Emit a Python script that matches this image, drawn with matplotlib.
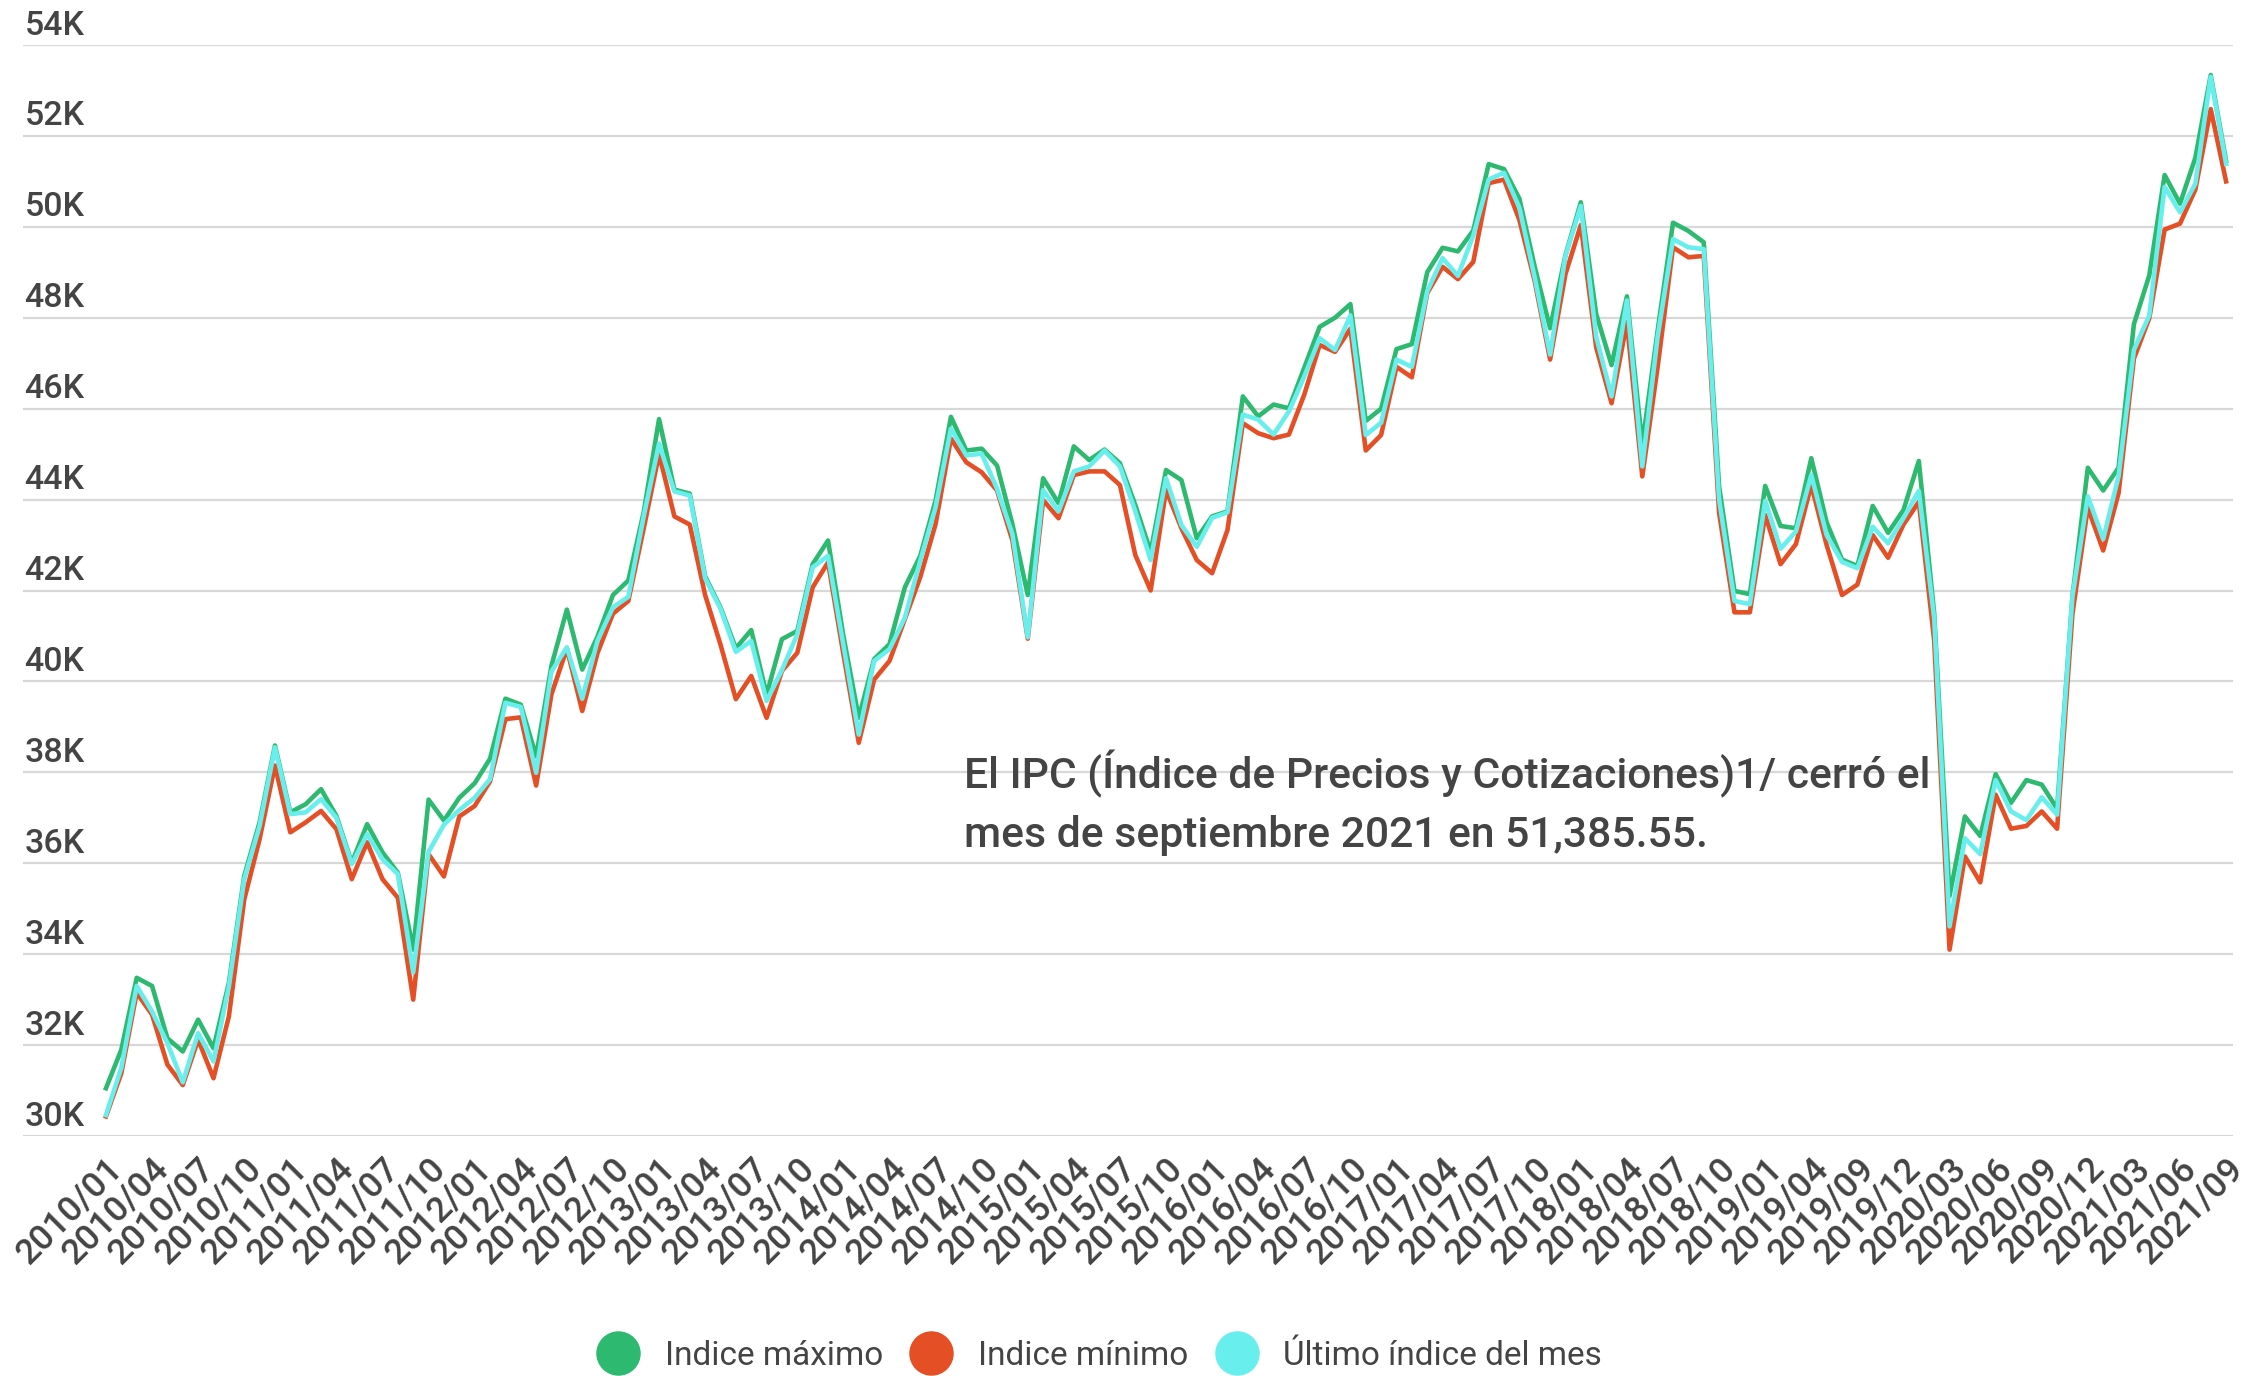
import matplotlib
matplotlib.use("Agg")
import matplotlib.pyplot as plt
from matplotlib.lines import Line2D

plt.rcParams['font.family'] = ['Roboto', 'DejaVu Sans']

# meses del periodo (faltan 2019/05 y 2019/07 en la serie)
meses = [f"{a}/{m:02d}" for a in range(2010, 2019) for m in range(1, 13)]
meses += ["2019/01", "2019/02", "2019/03", "2019/04", "2019/06", "2019/08",
          "2019/09", "2019/10", "2019/11", "2019/12"]
meses += [f"2020/{m:02d}" for m in range(1, 13)]
meses += [f"2021/{m:02d}" for m in range(1, 10)]

# miles de puntos
maximo = [
    31.05, 31.90, 33.48, 33.30, 32.15, 31.86, 32.56, 31.93, 33.37, 35.72, 36.90, 38.59,
    37.12, 37.30, 37.63, 37.04, 36.01, 36.86, 36.24, 35.79, 34.10, 37.40, 36.94, 37.44,
    37.76, 38.30, 39.62, 39.49, 38.35, 40.35, 41.58, 40.26, 40.99, 41.90, 42.22, 43.72,
    45.77, 44.22, 44.13, 42.31, 41.63, 40.73, 41.13, 39.71, 40.93, 41.11, 42.58, 43.10,
    41.00, 39.20, 40.49, 40.82, 42.07, 42.76, 43.98, 45.82, 45.08, 45.12, 44.75, 43.46,
    41.90, 44.47, 43.92, 45.17, 44.87, 45.10, 44.80, 43.88, 42.85, 44.65, 44.43, 43.15,
    43.63, 43.74, 46.27, 45.83, 46.09, 46.01, 46.90, 47.80, 48.00, 48.30, 45.73, 46.00,
    47.31, 47.42, 49.00, 49.54, 49.46, 49.92, 51.38, 51.27, 50.62, 49.12, 47.77, 49.38,
    50.54, 48.08, 46.96, 48.47, 45.20, 47.72, 50.09, 49.91, 49.66, 44.29, 41.99, 41.92,
    44.30, 43.42, 43.37, 44.91, 43.50, 42.68, 42.54, 43.86, 43.27, 43.77, 44.85, 41.50,
    35.28, 37.03, 36.60, 37.96, 37.33, 37.83, 37.73, 37.20, 41.87, 44.70, 44.20, 44.70,
    47.86, 48.93, 51.14, 50.51, 51.52, 53.34, 51.45,
]
minimo = [
    30.43, 31.38, 33.15, 32.67, 31.57, 31.12, 32.12, 31.27, 32.63, 35.20, 36.53, 38.15,
    36.68, 36.90, 37.15, 36.75, 35.65, 36.46, 35.65, 35.24, 33.00, 36.20, 35.71, 37.03,
    37.26, 37.80, 39.17, 39.21, 37.71, 39.72, 40.72, 39.35, 40.63, 41.49, 41.77, 43.36,
    45.00, 43.63, 43.45, 41.90, 40.81, 39.61, 40.12, 39.20, 40.23, 40.63, 42.07, 42.62,
    40.60, 38.65, 40.04, 40.45, 41.37, 42.29, 43.46, 45.34, 44.82, 44.60, 44.20, 43.10,
    40.94, 43.99, 43.59, 44.54, 44.62, 44.62, 44.32, 42.78, 42.00, 44.21, 43.37, 42.67,
    42.38, 43.33, 45.68, 45.46, 45.35, 45.43, 46.31, 47.40, 47.25, 47.76, 45.08, 45.42,
    46.92, 46.69, 48.54, 49.12, 48.85, 49.23, 50.96, 51.04, 50.15, 48.80, 47.08, 48.96,
    50.04, 47.35, 46.12, 47.90, 44.51, 46.92, 49.55, 49.33, 49.36, 43.71, 41.52, 41.52,
    43.66, 42.58, 43.02, 44.32, 43.00, 41.90, 42.13, 43.22, 42.72, 43.45, 43.95, 40.90,
    34.10, 36.15, 35.58, 37.51, 36.76, 36.82, 37.14, 36.76, 41.49, 43.82, 42.88, 44.14,
    47.10, 47.99, 49.94, 50.07, 50.82, 52.59, 51.00,
]
ultimo = [
    30.46, 31.50, 33.30, 32.74, 32.04, 31.18, 32.26, 31.64, 33.29, 35.65, 36.82, 38.55,
    37.08, 37.12, 37.41, 37.00, 35.98, 36.64, 36.09, 35.76, 33.60, 36.25, 36.85, 37.17,
    37.44, 37.85, 39.53, 39.44, 37.99, 40.22, 40.75, 39.62, 40.90, 41.63, 41.86, 43.63,
    45.23, 44.18, 44.09, 42.27, 41.60, 40.65, 40.89, 39.57, 40.25, 41.04, 42.51, 42.76,
    40.80, 38.83, 40.45, 40.71, 41.40, 42.65, 43.83, 45.56, 44.97, 45.01, 44.24, 43.24,
    40.97, 44.21, 43.74, 44.62, 44.73, 45.08, 44.73, 43.74, 42.67, 44.47, 43.44, 42.96,
    43.60, 43.72, 45.87, 45.76, 45.43, 45.94, 46.71, 47.55, 47.29, 48.05, 45.42, 45.69,
    47.08, 46.92, 48.58, 49.31, 48.92, 49.81, 51.04, 51.19, 50.42, 48.88, 47.19, 49.36,
    50.46, 47.58, 46.27, 48.38, 44.73, 47.58, 49.73, 49.55, 49.51, 44.00, 41.77, 41.70,
    43.97, 42.92, 43.30, 44.54, 43.22, 42.63, 42.49, 43.40, 43.04, 43.59, 44.19, 41.39,
    34.61, 36.55, 36.20, 37.83, 37.14, 36.95, 37.45, 37.07, 41.87, 44.07, 43.13, 44.51,
    47.29, 48.05, 50.88, 50.32, 50.95, 53.30, 51.38555,
]

verde = '#2dba70'
rojo = '#e54f25'
cian = '#68eeec'
gris = '#444444'

fig = plt.figure(figsize=(22.66, 13.76), dpi=100)
ax = fig.add_axes([23 / 2266, 1 - 1136 / 1376, 2210 / 2266, 1091 / 1376])

ax.plot(meses, maximo, color=verde, lw=3.3, zorder=3)
ax.plot(meses, minimo, color=rojo, lw=3.3, zorder=4)
ax.plot(meses, ultimo, color=cian, lw=3.3, zorder=5)

ax.set_ylim(30, 54)
ax.set_xlim(-5.4, len(meses) - 1 + 0.45)

# rejilla horizontal con etiquetas encima de cada línea
niveles = list(range(30, 56, 2))
ax.set_yticks(niveles)
ax.set_yticklabels([])
ax.tick_params(axis='y', length=0)
ax.grid(axis='y', color='#d8d8d8', lw=1.6, zorder=0)
for v in niveles:
    ax.annotate(f'{v}K', xy=(0, v), xycoords=('axes fraction', 'data'),
                xytext=(1, 2.5), textcoords='offset points',
                ha='left', va='bottom', fontsize=24.5, color=gris,
                fontweight='medium')

ax.set_xticks(range(0, len(meses), 3))
ax.set_xticklabels(meses[::3], rotation=45, ha='right', rotation_mode='anchor',
                   fontsize=25.5, color=gris, fontweight='medium')
ax.tick_params(axis='x', length=0, pad=11)

for s in ax.spines.values():
    s.set_visible(False)

fig.text(964 / 2266, 1 - 803 / 1376,
         'El IPC (Índice de Precios y Cotizaciones)1/ cerró el\n'
         'mes de septiembre 2021 en 51,385.55.',
         ha='left', va='center', fontsize=30.7, color=gris,
         fontweight='medium', linespacing=1.52)

handles = [Line2D([], [], ls='', marker='o', ms=31, color=c) for c in (verde, rojo, cian)]
fig.legend(handles, ['Indice máximo', 'Indice mínimo', 'Último índice del mes'],
           loc='center', bbox_to_anchor=(1100 / 2266, 1 - 1356 / 1376), ncol=3,
           frameon=False, fontsize=24, labelcolor=gris, handlelength=1.2,
           handletextpad=0.8, columnspacing=0.85, borderpad=0)

fig.savefig('out.png', dpi=100)
